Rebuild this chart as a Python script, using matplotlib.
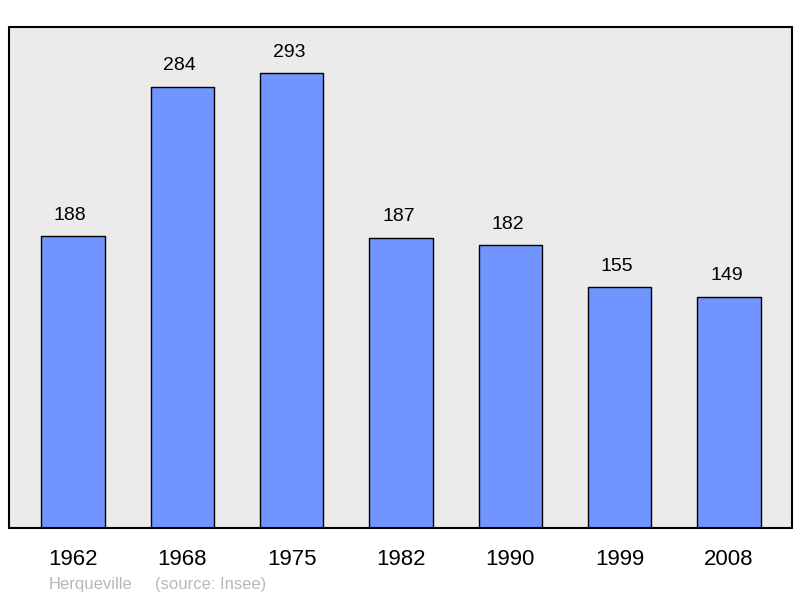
import matplotlib
matplotlib.use("Agg")
import matplotlib.pyplot as plt

plt.rcParams["font.family"] = ["Liberation Sans", "DejaVu Sans"]

years = ["1962", "1968", "1975", "1982", "1990", "1999", "2008"]
population = [188, 284, 293, 187, 182, 155, 149]

fig = plt.figure(figsize=(8, 5.98), dpi=100)
ax = fig.add_axes([9 / 800, 1 - 528 / 598, 783 / 800, 501 / 598])
ax.set_facecolor("#ebebeb")

x = range(len(years))
bars = ax.bar(x, population, width=0.58, color="#7095ff", edgecolor="black",
              linewidth=1.0, zorder=2)
for b in bars:
    b.set_joinstyle("round")

for i, v in zip(x, population):
    ax.text(i - 0.025, v + 13.5, str(v), ha="center", va="center", fontsize=14)

ax.set_xlim(-0.585, 6.575)
ax.set_ylim(0, 322.6)
ax.set_yticks([])
ax.set_xticks(list(x))
ax.set_xticklabels(years, fontsize=16)
ax.tick_params(axis="x", length=0, pad=15)
for s in ax.spines.values():
    s.set_linewidth(1.5)
    s.set_joinstyle("round")
    s.set_capstyle("round")

fig.text(49 / 800, 1 - 585 / 598, "Herqueville", color="#b8b8b8",
         fontsize=12, va="center", ha="left")
fig.text(155 / 800, 1 - 585 / 598, "(source: Insee)", color="#b8b8b8",
         fontsize=12, va="center", ha="left")

fig.savefig("out.png", dpi=100)
